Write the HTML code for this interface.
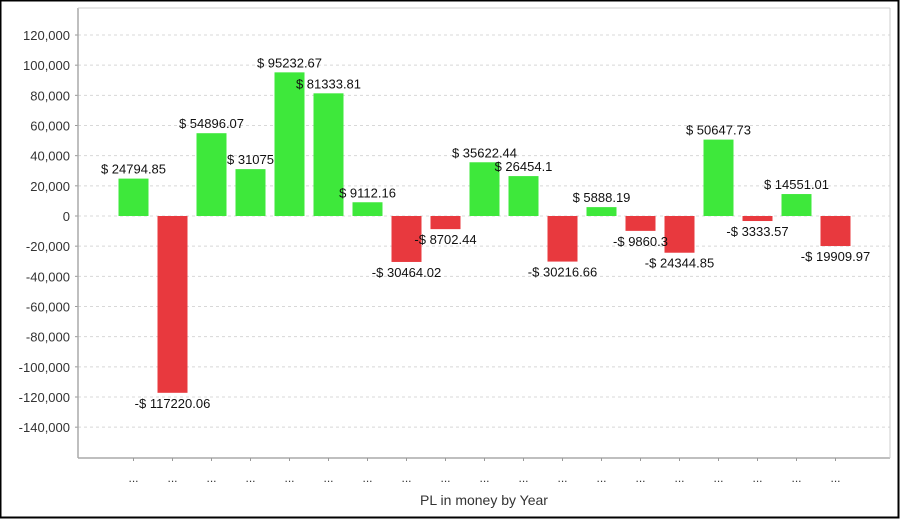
<!DOCTYPE html>
<html><head><meta charset="utf-8"><style>
body{margin:0;background:#fff;}
svg{display:block;font-family:"Liberation Sans",Arial,sans-serif;}
</style></head><body>
<svg id="chart" width="900" height="519" xmlns="http://www.w3.org/2000/svg">
<rect x="0.5" y="0.5" width="898" height="517" fill="#fff" stroke="#000" stroke-width="2"/>
<g id="grid"></g>
<g id="bars"></g>
<g id="labels"></g>
<g id="axes"></g>
<text x="484" y="505" text-anchor="middle" font-size="14" fill="#333">PL in money by Year</text>
</svg>
<script>
const categories = ["...","...","...","...","...","...","...","...","...","...","...","...","...","...","...","...","...","...","..."];
const values = [24794.85,-117220.06,54896.07,31075,95232.67,81333.81,9112.16,-30464.02,-8702.44,35622.44,26454.1,-30216.66,5888.19,-9860.3,-24344.85,50647.73,-3333.57,14551.01,-19909.97];
const valueLabels = ["$ 24794.85","-$ 117220.06","$ 54896.07","$ 31075","$ 95232.67","$ 81333.81","$ 9112.16","-$ 30464.02","-$ 8702.44","$ 35622.44","$ 26454.1","-$ 30216.66","$ 5888.19","-$ 9860.3","-$ 24344.85","$ 50647.73","-$ 3333.57","$ 14551.01","-$ 19909.97"];
const yTicks = [120000,100000,80000,60000,40000,20000,0,-20000,-40000,-60000,-80000,-100000,-120000,-140000];

const NS="http://www.w3.org/2000/svg";
const L=78,R=890,T=8,B=458;
const y=v=>216 - v*(181/120000);
const step=39, first=133.5, bw=30;
const x=i=>first+i*step;
function mk(t,a,p){const e=document.createElementNS(NS,t);for(const k in a)e.setAttribute(k,a[k]);p.appendChild(e);return e;}
const grid=document.getElementById('grid'),bars=document.getElementById('bars'),labels=document.getElementById('labels'),axes=document.getElementById('axes');
yTicks.forEach(v=>{
  const g=mk('line',{x1:L,x2:R,y1:y(v),y2:y(v),stroke:'#d8d8d8','stroke-dasharray':'3,3'},grid);
  
  
  const t=mk('text',{x:70,y:y(v)+5,'text-anchor':'end','font-size':13,fill:'#333'},axes);
  t.textContent=v.toLocaleString('en-US');
  
  
  mk('line',{x1:L-3,x2:L,y1:y(v),y2:y(v),stroke:'#999'},axes);
});
const ax=mk('line',{x1:L,x2:L,y1:T,y2:B,stroke:'#aaa','stroke-width':1.5},axes);


const bx=mk('line',{x1:L,x2:R,y1:B,y2:B,stroke:'#aaa','stroke-width':1.5},axes);


mk('line',{x1:L,x2:R,y1:T,y2:T,stroke:'#ccc'},axes);
mk('line',{x1:R,x2:R,y1:T,y2:B,stroke:'#ccc'},axes);
values.forEach((v,i)=>{
  const cx=x(i), y0=y(0), yv=y(v);
  const r=mk('rect',{x:cx-bw/2,y:Math.min(y0,yv),width:bw,height:Math.abs(yv-y0),fill:v>=0?'#3ee83b':'#e8393e'},bars);
  
  
  const t=mk('text',{x:cx,y:v>=0?yv-5:yv+15,'text-anchor':'middle','font-size':13,fill:'#111'},labels);
  t.textContent=valueLabels[i];
  
  
  mk('line',{x1:cx,x2:cx,y1:B,y2:B+3,stroke:'#999'},axes);
  const c=mk('text',{x:cx,y:482,'text-anchor':'middle','font-size':12,fill:'#333'},axes);
  c.textContent=categories[i];
  
  
});
</script>
</body></html>
